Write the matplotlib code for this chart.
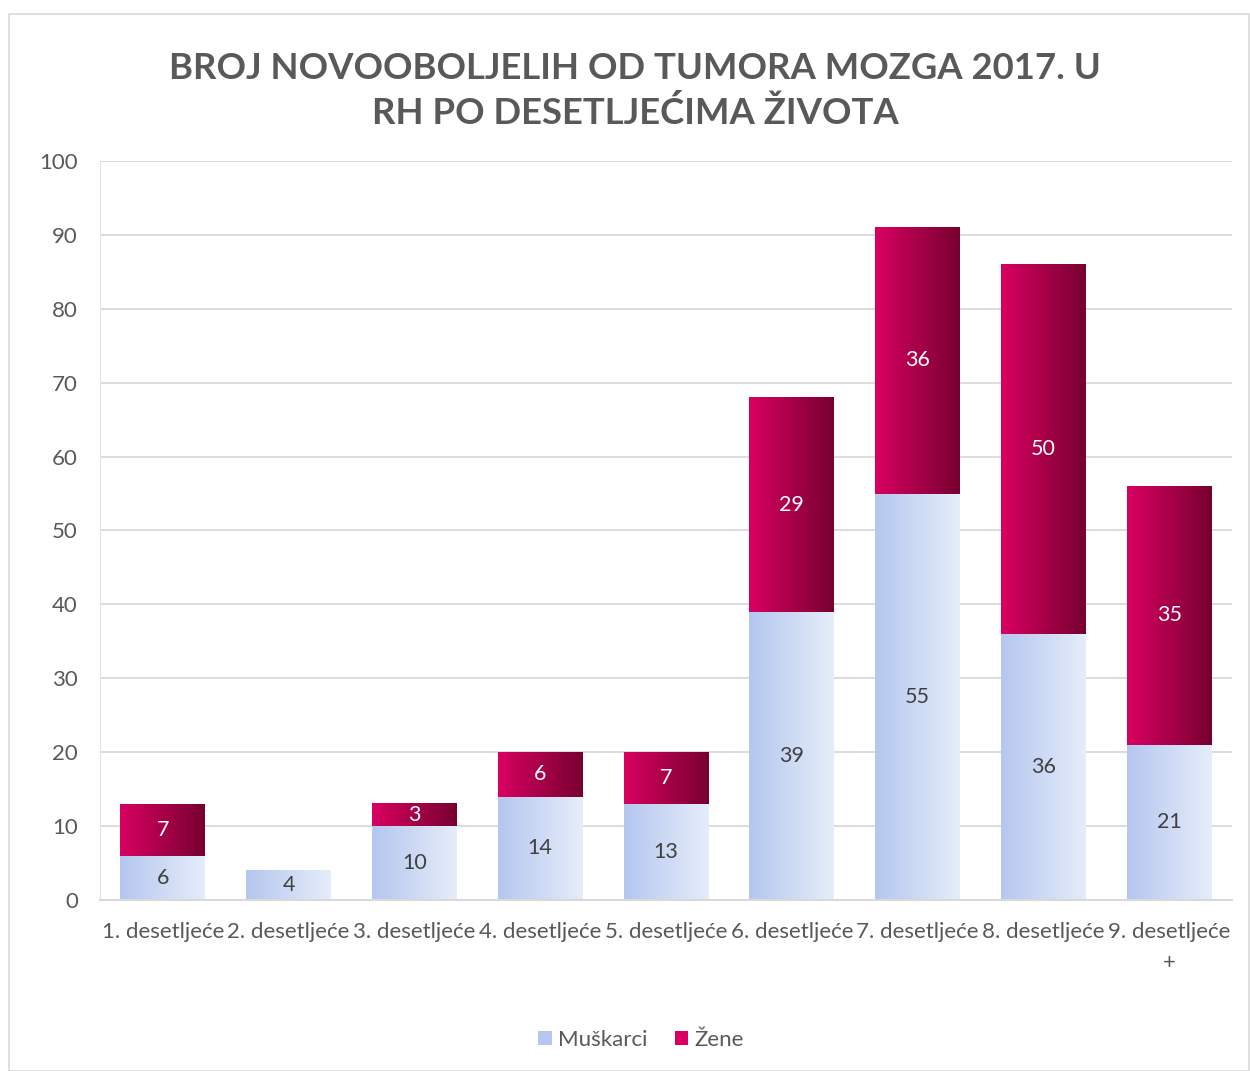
import matplotlib.pyplot as plt
import matplotlib.patches as mpatches
import numpy as np

plt.rcParams['font.family'] = ['Lato', 'DejaVu Sans']

kategorije = ['1. desetljeće', '2. desetljeće', '3. desetljeće', '4. desetljeće',
              '5. desetljeće', '6. desetljeće', '7. desetljeće', '8. desetljeće',
              '9. desetljeće\n+']
muskarci = [6, 4, 10, 14, 13, 39, 55, 36, 21]
zene = [7, 0, 3, 6, 7, 29, 36, 50, 35]

naslov = 'BROJ NOVOOBOLJELIH OD TUMORA MOZGA 2017. U\nRH PO DESETLJEĆIMA ŽIVOTA'

plava = [(0.71, 0.78, 0.94), (0.90, 0.93, 0.98)]
crvena = [(0.85, 0.0, 0.38), (0.47, 0.0, 0.19)]
siva = '#595959'

def gradient(c):
    g = np.linspace(0, 1, 64)
    img = np.zeros((1, 64, 3))
    for k in range(3):
        img[0, :, k] = c[0][k] + (c[1][k] - c[0][k]) * g
    return img

def bar_gradient(ax, x, bottom, h, w, c):
    if h <= 0:
        return
    ax.imshow(gradient(c), extent=(x - w / 2, x + w / 2, bottom, bottom + h),
              aspect='auto', zorder=2, interpolation='bilinear')

fig = plt.figure(figsize=(12.5, 10.71), dpi=100)
fig.patches.append(mpatches.Rectangle((9 / 1250, 0), 1240 / 1250, 1 - 14 / 1071,
                                      transform=fig.transFigure, fill=False,
                                      edgecolor='#d9d9d9', linewidth=1.2))
ax = fig.add_axes([0.08, 0.1597, 0.9056, 0.69])

x = np.arange(len(kategorije))
w = 0.675
for i in range(len(x)):
    bar_gradient(ax, x[i], 0, muskarci[i], w, plava)
    bar_gradient(ax, x[i], muskarci[i], zene[i], w, crvena)
    ax.text(x[i], muskarci[i] / 2, str(muskarci[i]), ha='center', va='center',
            fontsize=15.5, color='#404040', zorder=3)
    if zene[i] > 0:
        ax.text(x[i], muskarci[i] + zene[i] / 2, str(zene[i]), ha='center',
                va='center', fontsize=15.5, color='white', zorder=3)

ax.set_xlim(-0.5, len(x) - 0.5)
ax.set_ylim(0, 100)
ax.set_yticks(range(0, 101, 10))
ax.yaxis.grid(True, color='#d9d9d9', linewidth=1.3, zorder=0)
ax.set_axisbelow(True)
ax.set_xticks(x)
ax.set_xticklabels(kategorije, fontsize=16, color=siva, linespacing=1.65)
ax.tick_params(axis='both', length=0, labelcolor=siva)
ax.tick_params(axis='y', labelsize=16, pad=16)
ax.tick_params(axis='x', pad=16)
for s in ['top', 'right']:
    ax.spines[s].set_visible(False)
ax.spines['left'].set_color('#dce4f5')
ax.spines['bottom'].set_color('#d9d9d9')
ax.spines['bottom'].set_linewidth(1.5)

fig.text(0.508, 0.915, naslov, ha='center', va='center', fontsize=26.3,
         fontweight='bold', color=siva, linespacing=1.4)

h1 = mpatches.Patch(facecolor=plava[0], label='Muškarci')
h2 = mpatches.Patch(facecolor=crvena[0], label='Žene')
fig.legend(handles=[h1, h2], loc='center', bbox_to_anchor=(0.513, 0.029),
           ncol=2, frameon=False, fontsize=16, labelcolor=siva,
           handlelength=0.6, handleheight=0.6, handletextpad=0.3, columnspacing=1.2)

fig.savefig('out.png', dpi=100)
